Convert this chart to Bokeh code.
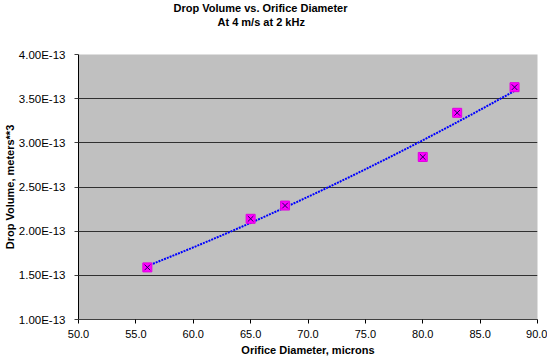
import numpy as np
from bokeh.plotting import figure
from bokeh.models import (Range1d, FixedTicker, CustomJSTickFormatter, PrintfTickFormatter,
                          Title, ColumnDataSource)
from bokeh.embed import file_html
from bokeh.resources import INLINE

# ---- data ----
title_line1 = "Drop Volume vs. Orifice Diameter"
title_line2 = "At 4 m/s at 2 kHz"
x_label = "Orifice Diameter, microns"
y_label = "Drop Volume, meters**3"

orifice_diameter = [56.0, 65.0, 68.0, 80.0, 83.0, 88.0]
drop_volume = [1.59e-13, 2.14e-13, 2.29e-13, 2.84e-13, 3.34e-13, 3.63e-13]

x_ticks = [50.0, 55.0, 60.0, 65.0, 70.0, 75.0, 80.0, 85.0, 90.0]
y_ticks = [1.0e-13, 1.5e-13, 2.0e-13, 2.5e-13, 3.0e-13, 3.5e-13, 4.0e-13]

# ---- power trendline (least squares in log space, like the spreadsheet's power trendline) ----
b, ln_a = np.polyfit(np.log(orifice_diameter), np.log(drop_volume), 1)
trend_x = np.linspace(min(orifice_diameter), max(orifice_diameter), 60)
trend_y = np.exp(ln_a) * trend_x ** b

FONT = "Liberation Sans"

p = figure(width=547, height=362, output_backend="svg", toolbar_location=None,
           title=None,
           x_range=Range1d(x_ticks[0], x_ticks[-1]),
           y_range=Range1d(y_ticks[0], y_ticks[-1]),
           min_border_left=78, min_border_right=10, min_border_top=54, min_border_bottom=43)

p.background_fill_color = "#C0C0C0"
p.border_fill_color = "white"
p.outline_line_color = None

# grid
p.xgrid.grid_line_color = None
p.ygrid.grid_line_color = "#303030"
p.ygrid.grid_line_width = 1
p.ygrid.ticker = FixedTicker(ticks=y_ticks)

# x axis
p.xaxis.ticker = FixedTicker(ticks=x_ticks)
p.xaxis.formatter = PrintfTickFormatter(format="%.1f")
p.xaxis.axis_line_color = "#404040"
p.xaxis.major_tick_line_color = "black"
p.xaxis.major_tick_out = 4
p.xaxis.major_tick_in = 0
p.xaxis.minor_tick_line_color = None
p.xaxis.major_label_standoff = 6
p.xaxis.major_label_text_font = FONT
p.xaxis.major_label_text_font_size = "11px"
p.xaxis.major_label_text_color = "black"
p.xaxis.axis_label = x_label
p.xaxis.axis_label_standoff = 3
p.xaxis.axis_label_text_font = FONT
p.xaxis.axis_label_text_font_size = "11px"
p.xaxis.axis_label_text_font_style = "bold"
p.xaxis.axis_label_text_color = "black"

# y axis
p.yaxis.ticker = FixedTicker(ticks=y_ticks)
p.yaxis.formatter = CustomJSTickFormatter(code="return tick.toExponential(2).toUpperCase();")
p.yaxis.axis_line_color = "black"
p.yaxis.major_tick_line_color = "#404040"
p.yaxis.major_tick_out = 4
p.yaxis.major_tick_in = 0
p.yaxis.minor_tick_line_color = None
p.yaxis.major_label_standoff = 9
p.yaxis.major_label_text_font = FONT
p.yaxis.major_label_text_font_size = "11.5px"
p.yaxis.major_label_text_color = "black"
p.yaxis.axis_label = y_label
p.yaxis.axis_label_standoff = 0
p.yaxis.axis_label_text_font = FONT
p.yaxis.axis_label_text_font_size = "11px"
p.yaxis.axis_label_text_font_style = "bold"
p.yaxis.axis_label_text_color = "black"

# trendline
p.line(trend_x, trend_y, line_color="#0000FF", line_width=2, line_dash="2 1")

# markers: magenta square with dark X
src = ColumnDataSource(dict(x=orifice_diameter, y=drop_volume))
p.scatter("x", "y", source=src, marker="square", size=9,
          fill_color="#FF00FF", line_color="#E000E0", line_width=1)
p.scatter("x", "y", source=src, marker="x", size=8,
          line_color="#200060", line_width=1)

# titles: spacer (closest to plot), then line 2, then line 1 on top
title_style = dict(text_font=FONT, text_font_size="11px", text_font_style="bold",
                   text_color="black", align="left", vertical_align="top", standoff=0)
p.add_layout(Title(text=" ", text_font_size="21px", standoff=0), "above")
p.add_layout(Title(text=title_line2, offset=139, **title_style), "above")
p.add_layout(Title(text=title_line1, offset=95, **title_style), "above")

open("out.html", "w").write(file_html(p, INLINE))
